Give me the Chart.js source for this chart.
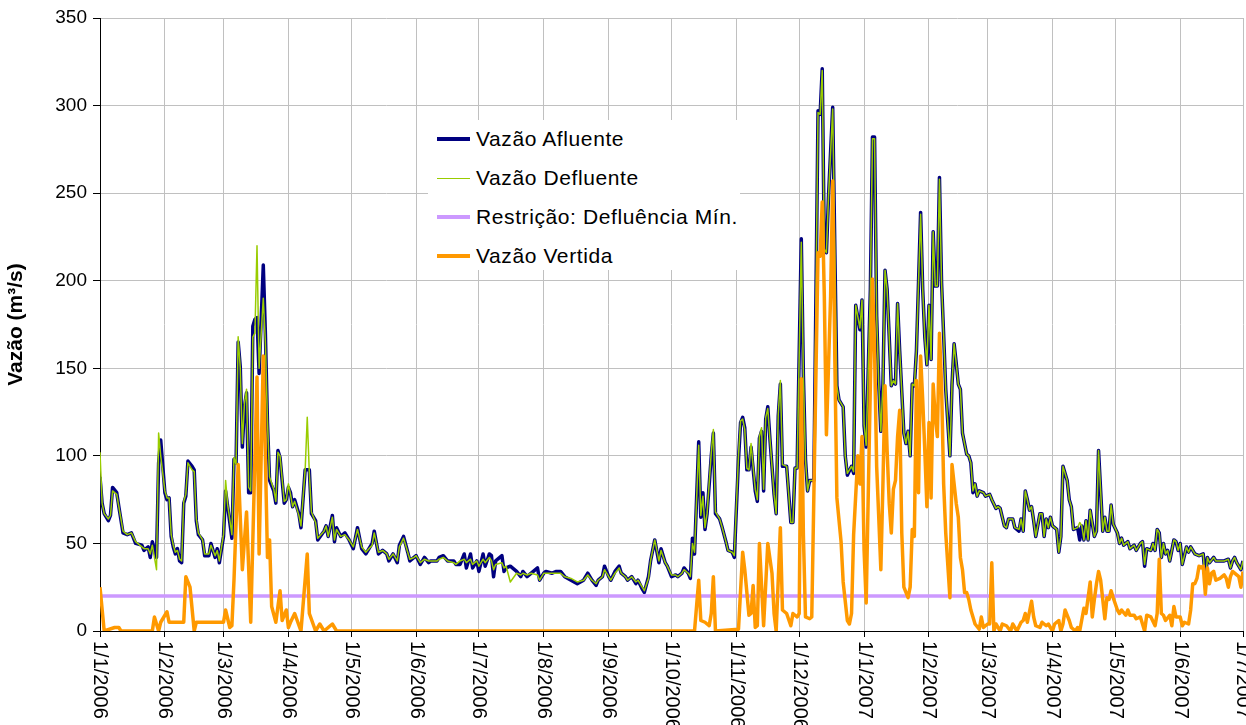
<!DOCTYPE html>
<html>
<head>
<meta charset="utf-8">
<script src="https://cdn.jsdelivr.net/npm/chart.js@4"></script>
<style>
  html, body { margin: 0; padding: 0; background: #fff; }
  #wrap { position: relative; width: 1246px; height: 725px; overflow: hidden; }
  #legenda { position: absolute; left: 428px; top: 120px; width: 312px; height: 150px; background: #fff;
             font-family: "Liberation Sans", Arial, sans-serif; font-size: 21px; letter-spacing: 0.6px; color: #000; }
  .item { position: absolute; left: 0; width: 100%; height: 24px; line-height: 24px; }
  .linha { position: absolute; left: 9px; width: 33px; top: 12px; }
  .txt { position: absolute; left: 48px; top: 0; white-space: nowrap; }
</style>
</head>
<body>
<div id="wrap">
  <canvas id="grafico"></canvas>
  <div id="legenda">
    <div class="item" style="top:7px"><span class="linha" style="border-top:4px solid #000080;margin-top:-2px"></span><span class="txt">Vazão Afluente</span></div>
    <div class="item" style="top:46px"><span class="linha" style="border-top:1px solid #99cc00"></span><span class="txt">Vazão Defluente</span></div>
    <div class="item" style="top:85px"><span class="linha" style="border-top:4px solid #cc99ff;margin-top:-2px"></span><span class="txt">Restrição: Defluência Mín.</span></div>
    <div class="item" style="top:124px"><span class="linha" style="border-top:4px solid #ff9900;margin-top:-2px"></span><span class="txt">Vazão Vertida</span></div>
  </div>
</div>
<script>
// ===== Dados (dia contado a partir de 1/1/2006) =====
const diasMeses = [0, 31, 59, 90, 120, 151, 181, 212, 243, 273, 304, 334, 365, 396, 424, 455, 485, 516, 546];
const rotulosMeses = ['1/1/2006', '1/2/2006', '1/3/2006', '1/4/2006', '1/5/2006', '1/6/2006', '1/7/2006',
    '1/8/2006', '1/9/2006', '1/10/2006', '1/11/2006', '1/12/2006', '1/1/2007', '1/2/2007', '1/3/2007',
    '1/4/2007', '1/5/2007', '1/6/2007', '1/7/2007'];

const diasVazao = [
    0,1,2,4,5,6,8,9,11,13,15,17,20,21,23,24,25,27,28,29,
    31,32,33,34,35,36,37,38,39,40,41,42,44,45,46,47,49,50,52,53,
    55,56,57,59,60,61,63,64,65,66,67,68,69,70,71,72,73,74,75,76,
    78,79,80,81,83,84,85,86,88,89,90,91,92,93,95,96,98,99,100,101,
    103,104,107,108,109,111,112,113,115,117,119,121,123,125,127,130,131,133,135,137,
    138,140,142,143,145,147,148,150,151,153,155,157,158,161,162,164,166,169,170,172,
    174,175,177,178,180,181,183,184,186,187,188,189,192,193,194,196,199,201,202,204,
    206,209,210,212,213,216,218,220,222,225,228,231,233,235,237,238,240,241,243,244,
    246,248,249,251,252,254,256,257,259,260,262,263,265,267,268,270,271,273,275,276,
    278,279,281,282,283,284,286,287,288,289,290,292,293,294,296,297,299,300,302,303,
    305,306,307,308,309,310,311,313,314,315,316,317,318,319,320,322,323,324,325,326,
    328,329,330,331,332,333,335,336,337,338,339,341,343,344,345,346,347,348,350,352,
    353,355,356,357,359,360,361,363,364,365,366,368,369,370,371,372,373,374,375,376,
    377,378,379,380,381,382,384,385,386,387,388,389,390,391,392,393,394,395,396,397,
    398,399,400,401,402,403,404,406,407,408,409,410,411,412,414,415,416,417,418,419,
    420,422,423,425,426,428,429,430,432,433,434,436,437,439,440,441,442,443,444,445,
    446,447,449,450,451,452,453,454,455,457,458,459,460,462,463,464,465,467,468,469,
    470,471,472,473,475,476,477,478,479,480,481,482,483,484,486,487,488,489,491,492,
    493,494,495,496,497,498,499,500,502,503,504,505,506,507,508,509,510,511,513,514,
    515,516,517,519,520,521,522,523,525,527,528,529,530,532,533,534,536,537,539,540,
    541,542,543,545,546
];

const vazaoAfluente = [
    88,73,67,63,66,82,79,71,56,55,56,50,49,46,48,42,51,42,96,109,
    79,75,76,54,48,44,47,40,39,73,77,97,94,92,63,55,52,43,43,50,
    42,47,39,54,80,71,53,98,96,165,151,105,128,136,79,79,174,178,179,147,
    209,170,119,86,80,73,103,99,73,75,82,79,71,75,67,59,92,92,92,67,
    63,52,57,60,54,66,51,59,54,56,52,47,59,47,44,50,57,44,46,44,
    40,44,39,49,54,45,40,42,43,38,42,39,40,40,42,43,40,40,38,38,
    44,36,44,36,40,34,44,37,44,43,31,40,43,34,36,37,34,31,34,31,
    33,36,29,33,34,33,34,34,31,29,27,29,33,29,26,29,31,37,31,29,
    34,37,33,31,29,31,27,29,24,22,31,40,52,39,47,39,37,31,32,31,
    33,36,33,30,53,44,108,65,79,58,67,100,113,67,64,60,51,46,45,42,
    98,119,122,116,92,92,105,80,74,110,114,80,121,128,110,78,67,123,141,94,
    94,78,62,62,93,93,224,146,98,80,86,86,297,295,321,218,216,248,299,140,
    132,128,100,89,94,90,186,172,189,117,105,195,282,282,180,141,114,141,206,195,
    168,140,143,141,187,160,113,107,114,100,141,140,160,199,239,195,168,152,186,155,
    228,197,197,259,199,169,138,100,141,164,153,141,138,113,101,100,96,79,84,77,
    80,79,77,78,75,70,71,70,60,59,64,64,59,57,64,57,80,75,69,71,
    63,54,67,67,54,64,59,65,60,58,45,54,94,86,75,71,58,59,52,60,
    52,63,52,69,54,57,103,80,57,65,57,57,72,61,56,50,53,49,51,47,
    48,49,46,48,50,51,37,47,46,50,46,58,56,42,50,44,46,40,52,51,
    46,50,38,48,45,48,46,44,43,44,30,42,39,42,40,40,40,40,41,36,
    40,42,39,35,40
];

const vazaoDefluente = [
    102,73,67,64,66,80,78,71,57,55,56,51,48,47,47,44,49,35,113,100,
    80,76,76,55,49,45,46,41,40,74,78,96,92,91,64,56,52,44,44,49,
    43,46,40,55,86,72,55,99,95,168,150,107,130,138,82,80,168,170,220,150,
    190,165,120,88,81,74,102,100,74,75,84,78,71,74,66,60,92,122,90,68,
    62,53,57,60,54,65,52,58,54,55,52,48,58,48,45,49,56,45,46,44,
    41,44,40,48,53,45,41,42,43,39,41,40,40,40,41,42,40,39,38,40,
    41,39,41,38,40,37,41,39,42,40,35,38,39,36,37,28,33,32,33,32,
    33,32,29,33,33,33,33,33,31,30,28,29,32,29,27,29,31,35,31,29,
    33,36,33,31,29,31,28,29,25,23,30,40,52,40,46,39,37,32,32,31,
    33,35,33,31,50,45,106,66,77,59,67,102,115,68,64,60,51,46,45,43,
    100,120,121,115,93,92,107,81,75,111,116,81,122,127,110,78,67,124,143,95,
    94,78,62,62,93,93,222,146,98,80,86,86,296,295,320,218,216,248,298,140,
    132,128,100,90,94,91,186,173,189,118,106,195,281,281,181,141,114,141,206,195,
    168,140,143,141,187,160,113,107,114,100,141,140,160,199,238,195,168,152,186,155,
    228,197,197,258,199,169,138,100,141,164,153,141,138,113,101,100,96,80,84,77,
    80,79,77,78,75,70,71,70,60,59,64,64,59,58,64,57,80,75,69,71,
    63,54,67,67,54,64,59,65,60,58,45,54,94,86,75,71,58,59,62,60,
    52,63,52,69,54,57,103,80,57,65,57,57,72,61,56,50,53,49,51,47,
    48,49,46,48,50,51,38,47,46,50,46,58,56,42,50,44,46,40,52,51,
    46,50,38,48,45,48,46,44,43,44,27,42,39,42,40,40,40,40,41,36,
    40,42,39,35,40
];

const diasRestricao = [0, 546];
const restricaoMin = [20, 20];

const diasVertida = [
    0,2,7,9,10,25,26,28,29,32,33,40,41,43,45,46,59,60,62,63,
    64,66,68,70,72,75,76,78,80,81,82,84,86,87,89,90,91,93,96,99,
    100,103,105,107,111,113,284,286,287,289,291,292,293,294,305,307,308,310,311,312,
    313,314,315,317,319,321,322,323,325,326,328,330,331,333,334,335,336,337,339,340,
    343,344,345,346,347,349,350,351,352,354,355,357,358,359,360,362,363,364,365,366,
    368,369,370,371,372,373,374,375,376,377,378,379,380,381,382,383,384,385,386,387,
    388,389,390,391,392,393,394,395,396,397,398,399,400,401,402,403,404,406,407,408,
    409,410,411,412,413,414,415,416,418,420,421,422,424,425,426,427,428,430,431,433,
    435,436,438,440,441,442,443,445,446,447,449,450,452,453,455,456,458,459,460,461,
    463,464,466,467,468,470,471,473,474,475,476,477,478,480,481,482,483,484,486,487,
    488,490,491,492,494,495,497,498,499,500,502,504,505,506,507,508,509,511,512,513,
    514,516,517,518,520,521,522,523,524,525,526,527,528,529,530,531,532,533,535,537,
    538,539,540,541,543,544,545,546
];

const vazaoVertida = [
    25,0,2,2,0,0,8,0,5,11,5,5,31,25,0,5,5,12,2,3,
    29,95,35,68,5,145,44,157,42,52,14,5,23,6,12,2,5,10,0,44,
    10,0,4,0,4,0,0,29,6,5,3,10,31,0,1,45,35,9,10,26,
    2,3,50,3,50,33,10,0,59,12,10,3,10,8,10,144,55,8,7,8,
    216,214,245,191,112,191,257,157,76,51,28,6,4,10,55,100,84,111,46,16,
    141,201,160,94,65,35,84,140,103,73,56,81,86,111,126,56,25,22,19,25,
    58,54,143,79,157,132,103,71,119,76,141,122,111,170,141,84,56,19,95,84,
    73,65,42,35,22,22,18,12,4,1,8,2,4,4,39,0,4,0,4,3,
    0,4,0,5,6,10,5,17,8,3,2,5,3,4,0,4,6,0,4,12,
    6,2,0,2,0,13,10,28,8,18,27,34,29,7,19,18,23,19,12,10,
    12,9,12,9,9,7,8,4,0,9,8,3,10,41,10,9,6,9,3,14,
    8,8,3,5,4,12,27,27,30,37,36,37,21,36,27,33,34,29,30,32,
    30,25,31,34,32,31,25,34
];

function pares(dias, valores) {
    return dias.map((d, i) => ({ x: d, y: valores[i] }));
}

const fonte = '"Liberation Sans", Arial, sans-serif';

// rótulos do eixo X girados 90° (lidos de cima para baixo)
const rotulosEixoX = {
    id: 'rotulosEixoX',
    afterDraw(chart) {
        const ctx = chart.ctx;
        const x = chart.scales.x;
        ctx.save();
        ctx.font = '20px ' + fonte;
        ctx.fillStyle = '#000';
        ctx.textAlign = 'left';
        ctx.textBaseline = 'middle';
        diasMeses.forEach((d, i) => {
            const px = x.getPixelForValue(d);
            ctx.save();
            ctx.translate(px, x.top + 10);
            ctx.rotate(Math.PI / 2);
            ctx.fillText(rotulosMeses[i], 0, 0);
            ctx.restore();
        });
        ctx.restore();
    }
};

new Chart(document.getElementById('grafico'), {
    type: 'line',
    data: {
        datasets: [
            { label: 'Vazão Afluente', data: pares(diasVazao, vazaoAfluente), borderColor: '#000080', borderWidth: 3.5, order: 4 },
            { label: 'Vazão Defluente', data: pares(diasVazao, vazaoDefluente), borderColor: '#99cc00', borderWidth: 1.5, order: 3 },
            { label: 'Restrição: Defluência Mín.', data: pares(diasRestricao, restricaoMin), borderColor: '#cc99ff', borderWidth: 3.5, order: 2 },
            { label: 'Vazão Vertida', data: pares(diasVertida, vazaoVertida), borderColor: '#ff9900', borderWidth: 3.5, order: 1 }
        ]
    },
    options: {
        responsive: true,
        maintainAspectRatio: false,
        animation: false,
        layout: { padding: { left: 0, right: 3, top: 18, bottom: 0 } },
        elements: {
            point: { radius: 0 },
            line: { tension: 0, fill: false, borderJoinStyle: 'round' }
        },
        plugins: {
            legend: { display: false },
            tooltip: { enabled: false }
        },
        scales: {
            x: {
                type: 'linear',
                min: 0,
                max: 546,
                afterBuildTicks: (axis) => { axis.ticks = diasMeses.map(v => ({ value: v })); },
                ticks: { display: false },
                grid: { color: '#c0c0c0', tickColor: '#000', tickLength: 6 },
                border: { color: '#000' },
                afterFit: (axis) => { axis.height = 94; }
            },
            y: {
                min: 0,
                max: 350,
                ticks: { stepSize: 50, color: '#000', padding: 6, font: { family: fonte, size: 19 } },
                grid: { color: '#c0c0c0', tickColor: '#000', tickLength: 7 },
                border: { color: '#000' },
                title: {
                    display: true,
                    text: 'Vazão (m³/s)',
                    color: '#000',
                    padding: { top: 4, bottom: 0 },
                    font: { family: fonte, size: 21, weight: 'bold' }
                },
                afterFit: (axis) => { axis.width = 100; }
            }
        }
    },
    plugins: [rotulosEixoX]
});
</script>
</body>
</html>
